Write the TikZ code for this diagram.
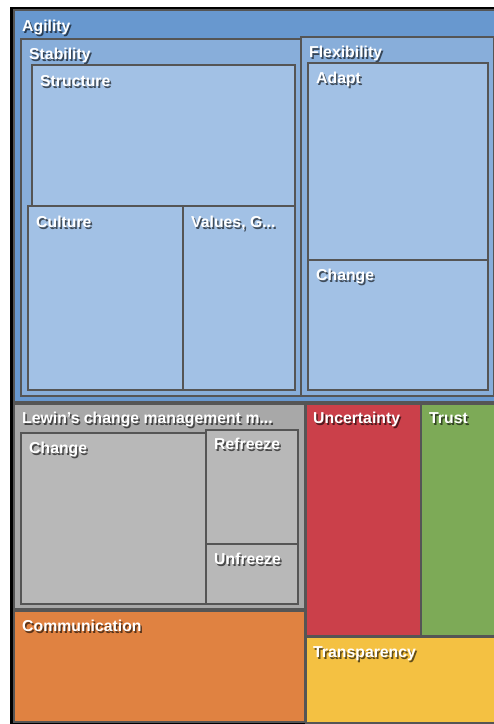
\documentclass[tikz,border=0pt]{standalone}
\usepackage{fontspec}
\setmainfont{Liberation Sans}
\definecolor{frame}{RGB}{85,85,85}
\definecolor{agilityfill}{RGB}{104,152,207}
\definecolor{groupblue}{RGB}{136,174,218}
\definecolor{leafblue}{RGB}{162,193,229}
\definecolor{groupgray}{RGB}{168,168,168}
\definecolor{leafgray}{RGB}{184,184,184}
\definecolor{commfill}{RGB}{224,130,65}
\definecolor{uncfill}{RGB}{203,64,74}
\definecolor{trustfill}{RGB}{125,170,87}
\definecolor{transfill}{RGB}{244,193,66}
\begin{document}
\begin{tikzpicture}[x=1pt,y=-1pt]
\tikzstyle{box}=[draw=frame,line width=2pt]
\tikzstyle{lbl}=[anchor=base west,inner sep=0pt,text=white,font=\bfseries\fontsize{15.8}{18}\selectfont]
\tikzstyle{shade}=[lbl,text=black,opacity=0.6,xshift=1.5pt,yshift=-2pt]
\useasboundingbox (0,0) rectangle (494,724);
\fill[white] (0,0) rectangle (494,724);
\fill[black] (10,7) rectangle (500,730);

\draw[box,fill=agilityfill] (14,10) rectangle (500,402);
\path (22,31) node[shade]{Agility} node[lbl](agility){Agility};

\draw[box,fill=groupblue] (21,39) rectangle (301,396);
\path (29,59) node[shade]{Stability} node[lbl](stability){Stability};
\draw[box,fill=leafblue] (32,65) rectangle (295,206);
\path (40,86) node[shade]{Structure} node[lbl](structure){Structure};
\draw[box,fill=leafblue] (28,206) rectangle (183,390);
\path (36,227) node[shade]{Culture} node[lbl](culture){Culture};
\draw[box,fill=leafblue] (183,206) rectangle (295,390);
\path (191,227) node[shade]{Values, G...} node[lbl](values){Values, G...};

\draw[box,fill=groupblue] (301,37) rectangle (494,396);
\path (309,57) node[shade]{Flexibility} node[lbl](flexibility){Flexibility};
\draw[box,fill=leafblue] (308,63) rectangle (488,260);
\path (316,83) node[shade]{Adapt} node[lbl](adapt){Adapt};
\draw[box,fill=leafblue] (308,260) rectangle (488,390);
\path (316,280) node[shade]{Change} node[lbl](flexchange){Change};

\draw[box,fill=groupgray] (14,404) rectangle (305,609);
\path (22,423) node[shade]{Lewin's change management m...} node[lbl](lewin){Lewin's change management m...};
\draw[box,fill=leafgray] (21,433) rectangle (206,604);
\path (29,453) node[shade]{Change} node[lbl](lewinchange){Change};
\draw[box,fill=leafgray] (206,430) rectangle (298,544);
\path (214,449) node[shade]{Refreeze} node[lbl](refreeze){Refreeze};
\draw[box,fill=leafgray] (206,544) rectangle (298,604);
\path (214,564) node[shade]{Unfreeze} node[lbl](unfreeze){Unfreeze};

\draw[box,fill=commfill] (14,611) rectangle (305,722);
\path (22,631) node[shade]{Communication} node[lbl](communication){Communication};

\draw[box,fill=uncfill] (306,404) rectangle (421,636);
\path (313,423) node[shade]{Uncertainty} node[lbl](uncertainty){Uncertainty};
\draw[box,fill=trustfill] (421,404) rectangle (500,636);
\path (429,423) node[shade]{Trust} node[lbl](trust){Trust};
\draw[box,fill=transfill] (306,637) rectangle (500,723);
\path (313,657) node[shade]{Transparency} node[lbl](transparency){Transparency};
\end{tikzpicture}
\end{document}
